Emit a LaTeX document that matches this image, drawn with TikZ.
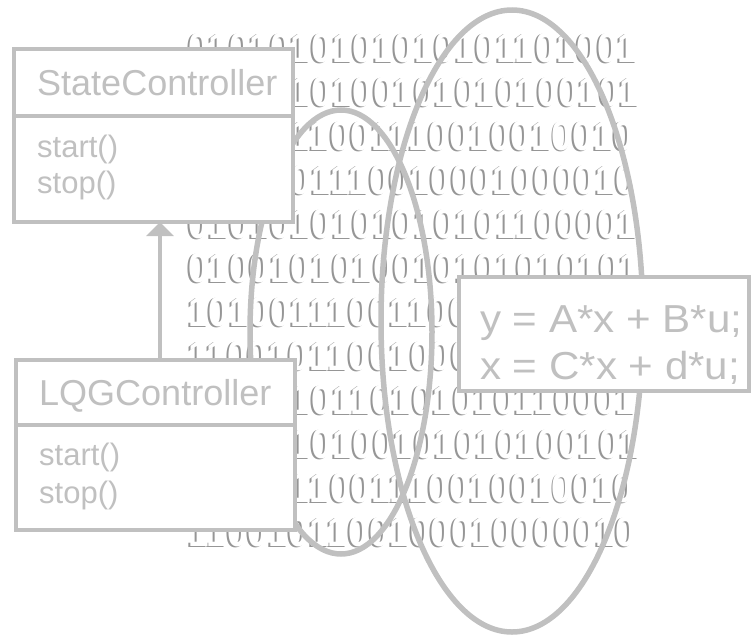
\documentclass[tikz,border=0pt]{standalone}
\usepackage{fontspec}
\setmainfont{Liberation Sans}
\newfontfamily\bitfont[FakeStretch=0.88]{Liberation Sans Bold}
\newfontfamily\eqfont[FakeStretch=1.08]{Liberation Sans}
\usetikzlibrary{arrows.meta}
\definecolor{umlgray}{RGB}{192,192,192}
\definecolor{bitshadow}{RGB}{150,150,150}

\begin{document}
\begin{tikzpicture}[x=1pt,y=-1pt,
  classbox/.style={draw=umlgray, fill=white, line width=4pt, rectangle,
    inner sep=0pt, outer sep=0pt},
  classname/.style={anchor=base west, inner sep=0pt, text=umlgray,
    font=\fontsize{36}{40}\selectfont},
  method/.style={anchor=base west, inner sep=0pt, text=umlgray,
    font=\fontsize{31}{36}\selectfont},
  eqline/.style={anchor=base west, inner sep=0pt, text=umlgray,
    font=\eqfont\fontsize{39}{44}\selectfont},
  bitshade/.style={anchor=base west, inner sep=0pt, text=bitshadow,
    font=\bitfont\fontsize{42}{44}\selectfont},
  bitface/.style={anchor=base west, inner sep=0pt, text=white,
    font=\bitfont\fontsize{42}{44}\selectfont},
  ring/.style={draw=umlgray, line width=5.5pt},
  inherit/.style={draw=umlgray, line width=4pt,
    -{Triangle[length=14pt,width=27pt]}}]

\useasboundingbox (0,0) rectangle (752,640);

% embossed binary background: grey copy first, white copy on top
\foreach \bits [count=\i from 0] in {
  0101010101010101101001,
  0101010100101010100101,
  0101011001110010010010,
  1010001110010001000010,
  0101010101010101100001,
  0100101010010101010101,
  1010011100110010101001,
  1100101100100010101010,
  0101010110101010110001,
  0101010100101010100101,
  0101011001110010010010,
  1100101100100010000010} {
  \node[bitshade] (shade\i) at (186,63.5+44*\i) {\bits};
  \node[bitface]  (face\i)  at (188,62+44*\i) {\bits};
}

% the two rings
\draw[ring] (341,332) ellipse [x radius=91pt, y radius=222pt];
\draw[ring] (512,321) ellipse [x radius=131pt, y radius=311pt];

% class StateController
\node[classbox, minimum width=279pt, minimum height=173pt] (sc) at (153.5,135.5) {};
\draw[draw=umlgray, line width=4pt] (sc.west |- 0,116) -- (sc.east |- 0,116);
\node[classname] (scname) at (37,95) {StateController};
\node[method] (scstart) at (37,157) {start()};
\node[method] (scstop) at (37,193) {stop()};

% class LQGController
\node[classbox, minimum width=279pt, minimum height=170pt] (lqg) at (155.5,445) {};
\draw[draw=umlgray, line width=4pt] (lqg.west |- 0,425) -- (lqg.east |- 0,425);
\node[classname] (lqgname) at (39,405) {LQGController};
\node[method] (lqgstart) at (39,465) {start()};
\node[method] (lqgstop) at (39,503) {stop()};

% generalisation arrow
\draw[inherit] ([xshift=4.5pt]lqg.north) -- ([xshift=4.5pt]lqg.north |- sc.south);

% state-space equations
\node[classbox, minimum width=290pt, minimum height=114pt] (eq) at (604,334) {};
\node[eqline] (eqy) at (480,332) {y = A*x + B*u;};
\node[eqline] (eqx) at (480,379) {x = C*x + d*u;};
\end{tikzpicture}
\end{document}
